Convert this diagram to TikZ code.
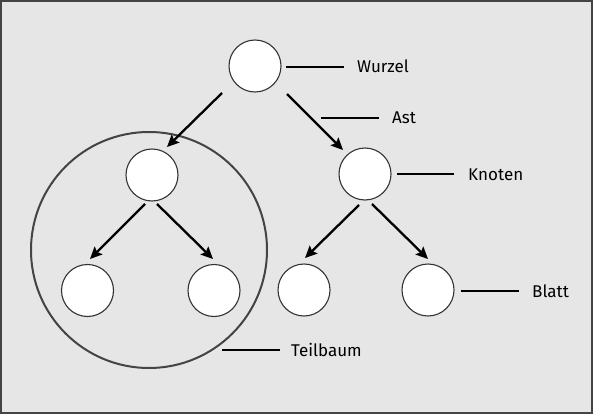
\documentclass[tikz,border=0pt]{standalone}
\usepackage{fontspec}
\setmainfont{Fira Sans}
\usepackage{xcolor}
\usepackage{tikz}
\usetikzlibrary{arrows.meta, positioning}
\definecolor{grund}{HTML}{E6E6E6}
\definecolor{rahmen}{HTML}{444444}
\definecolor{kreis}{HTML}{333333}
\begin{document}
\begin{tikzpicture}[x=1pt, y=-1pt,
  knoten/.style={circle, draw=kreis, fill=white, line width=1.1pt, minimum size=52pt, inner sep=0pt},
  ast/.style={line width=2.3pt, -{Stealth[length=12pt,width=11pt,inset=2pt]}},
  zeiger/.style={line width=2.2pt},
  lbl/.style={anchor=base west, inner sep=0pt, font=\fontsize{17}{20}\selectfont}]
\useasboundingbox (0,0) rectangle (593,414);
\draw[line width=2pt, draw=rahmen, fill=grund] (1,1) rectangle (592,413);
% Teilbaum
\draw[line width=2pt, draw=rahmen] (149,250) circle (118);
% Knoten
\node[knoten] (root) at (255,66) {};
\node[knoten] (lc) at (152,175) {};
\node[knoten] (rc) at (365,174) {};
\node[knoten] (ll) at (87.5,290.5) {};
\node[knoten] (lr) at (214,290.5) {};
\node[knoten] (rl) at (304,290) {};
\node[knoten] (rr) at (428,290) {};
% Kanten
\draw[ast] ([shift={(-33,27)}]root.center) -- ([shift={(15,-28)}]lc.center);
\draw[ast] ([shift={(32,28)}]root.center) -- ([shift={(-22,-24)}]rc.center);
\draw[ast] ([shift={(-7,29)}]lc.center) -- ([shift={(2.5,-31.5)}]ll.center);
\draw[ast] ([shift={(5,29)}]lc.center) -- ([shift={(-1,-31.5)}]lr.center);
\draw[ast] ([shift={(-6,31)}]rc.center) -- ([shift={(1,-32)}]rl.center);
\draw[ast] ([shift={(7,30)}]rc.center) -- ([shift={(0,-31)}]rr.center);
% Beschriftungen
\node[lbl] (wurzel) at (357,73) {Wurzel};
\node[lbl] (astl) at (392,124) {Ast};
\node[lbl] (knotenl) at (468,180.5) {Knoten};
\node[lbl] (blatt) at (532,297) {Blatt};
\node[lbl] (teilbaum) at (291,356.5) {Teilbaum};
\coordinate (wurzelA) at (286,66.7);
\coordinate (astA) at (321,117.7);
\coordinate (knotenA) at (397,174.3);
\coordinate (blattA) at (461,290.7);
\coordinate (teilbaumA) at (222,350.3);
\draw[zeiger] (wurzelA) -- (wurzelA -| 344,0);
\draw[zeiger] (astA) -- (astA -| 379,0);
\draw[zeiger] (knotenA) -- (knotenA -| 454,0);
\draw[zeiger] (blattA) -- (blattA -| 519,0);
\draw[zeiger] (teilbaumA) -- (teilbaumA -| 280,0);
\end{tikzpicture}
\end{document}
